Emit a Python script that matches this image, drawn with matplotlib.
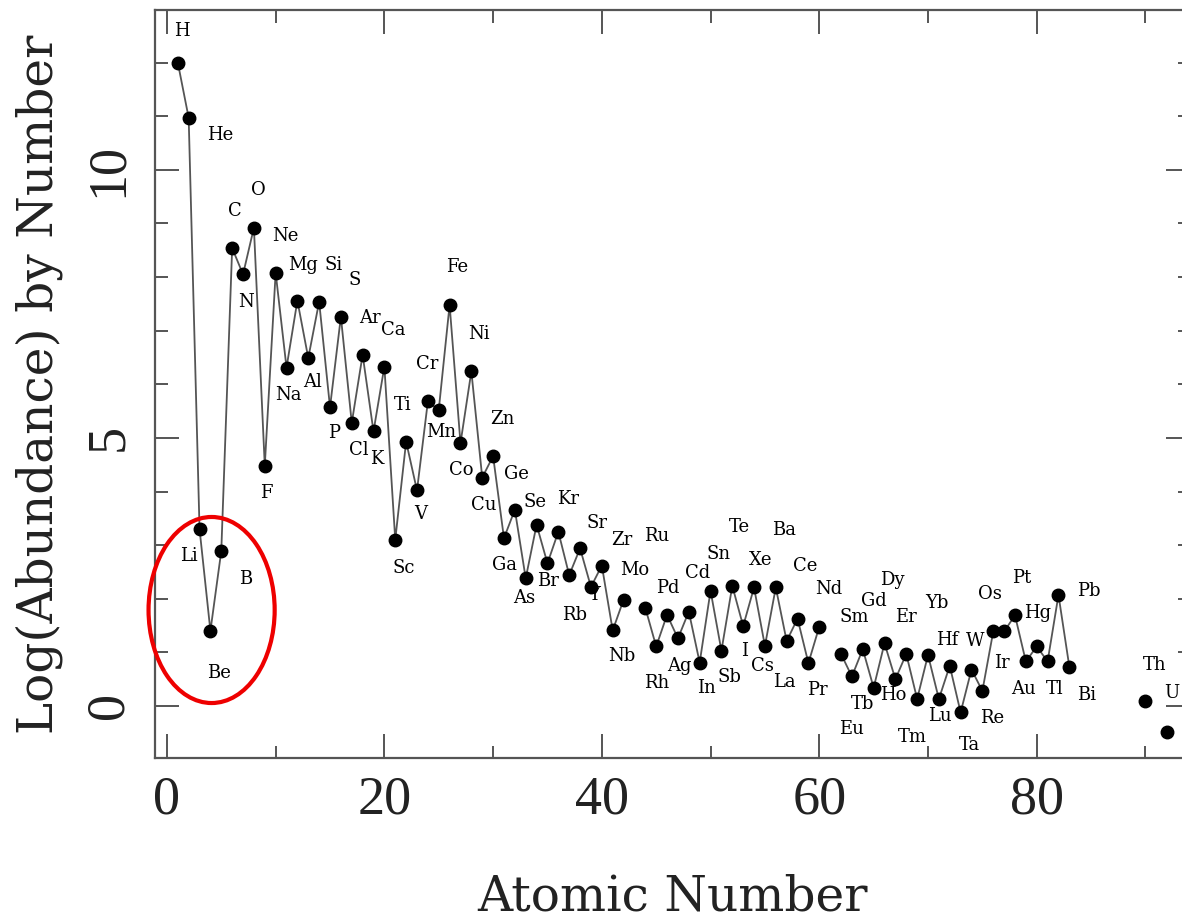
import numpy as np
import matplotlib.pyplot as plt
from matplotlib.patches import Ellipse
from matplotlib.ticker import MultipleLocator

# solar system abundances, log scale (H = 12)
atomic_numbers = [1, 2, 3, 4, 5, 6, 7, 8, 9, 10, 11, 12, 13, 14, 15, 16, 17, 18, 19, 20,
                  21, 22, 23, 24, 25, 26, 27, 28, 29, 30, 31, 32, 33, 34, 35, 36, 37, 38, 39, 40,
                  41, 42, 44, 45, 46, 47, 48, 49, 50, 51, 52, 53, 54, 55, 56, 57, 58, 59, 60,
                  62, 63, 64, 65, 66, 67, 68, 69, 70, 71, 72, 73, 74, 75, 76, 77, 78, 79, 80,
                  81, 82, 83, 90, 92]
symbols = ['H', 'He', 'Li', 'Be', 'B', 'C', 'N', 'O', 'F', 'Ne', 'Na', 'Mg', 'Al', 'Si', 'P',
           'S', 'Cl', 'Ar', 'K', 'Ca', 'Sc', 'Ti', 'V', 'Cr', 'Mn', 'Fe', 'Co', 'Ni', 'Cu', 'Zn',
           'Ga', 'Ge', 'As', 'Se', 'Br', 'Kr', 'Rb', 'Sr', 'Y', 'Zr', 'Nb', 'Mo', 'Ru', 'Rh',
           'Pd', 'Ag', 'Cd', 'In', 'Sn', 'Sb', 'Te', 'I', 'Xe', 'Cs', 'Ba', 'La', 'Ce', 'Pr',
           'Nd', 'Sm', 'Eu', 'Gd', 'Tb', 'Dy', 'Ho', 'Er', 'Tm', 'Yb', 'Lu', 'Hf', 'Ta', 'W',
           'Re', 'Os', 'Ir', 'Pt', 'Au', 'Hg', 'Tl', 'Pb', 'Bi', 'Th', 'U']
log_abundance = [12.00, 10.97, 3.30, 1.40, 2.89, 8.54, 8.05, 8.92, 4.48, 8.08,
                 6.31, 7.56, 6.49, 7.54, 5.57, 7.26, 5.28, 6.55, 5.12, 6.33,
                 3.10, 4.93, 4.02, 5.68, 5.52, 7.48, 4.90, 6.24, 4.26, 4.66,
                 3.13, 3.66, 2.38, 3.38, 2.66, 3.25, 2.44, 2.94, 2.22, 2.62,
                 1.41, 1.98, 1.83, 1.11, 1.70, 1.26, 1.76, 0.81, 2.15, 1.03,
                 2.24, 1.49, 2.21, 1.12, 2.21, 1.21, 1.63, 0.80, 1.48,
                 0.97, 0.55, 1.06, 0.34, 1.17, 0.50, 0.97, 0.13, 0.95, 0.13,
                 0.75, -0.12, 0.68, 0.28, 1.39, 1.39, 1.69, 0.83, 1.11, 0.83,
                 2.07, 0.73, 0.09, -0.49]

# label placement, pixels from each point (dx, dy up)
label_offsets = [(4, 32), (32, -17), (-11, -27), (9, -42), (24, -28), (3, 37), (3, -28),
                 (4, 38), (2, -27), (10, 37), (2, -27), (6, 36), (4, -24), (14, 37),
                 (4, -26), (14, 37), (7, -27), (7, 37), (3, -28), (9, 37), (9, -28),
                 (-3, 37), (4, -24), (-1, 37), (2, -22), (8, 38), (1, -27), (8, 37),
                 (2, -27), (9, 37), (1, -27), (2, 36), (-2, -20), (-2, 23), (1, -18),
                 (10, 33), (5, -40), (17, 25), (3, -8), (20, 26), (9, -26), (11, 30),
                 (11, 72), (0, -37), (1, 27), (1, -28), (9, 39), (7, -25), (8, 37),
                 (8, -26), (7, 59), (1, -25), (7, 27), (-2, -20), (8, 57), (-2, -41),
                 (8, 53), (9, -27), (9, 38), (13, 37), (0, -53), (11, 48), (-11, -16),
                 (8, 63), (-2, -16), (0, 37), (-5, -38), (9, 52), (1, -17), (-3, 26),
                 (9, -33), (4, 29), (10, -27), (-3, 37), (-2, -32), (7, 37), (-2, -28),
                 (1, 33), (7, -28), (30, 4), (17, -28), (9, 36), (5, 39)]

z = np.array(atomic_numbers)
y = np.array(log_abundance)

fig = plt.figure(figsize=(11.82, 9.19), dpi=100)
ax = fig.add_axes([0.1311, 0.1752, 0.8757, 0.8139])

# connect consecutive elements only (gaps at Tc, Pm and beyond Bi)
breaks = np.where(np.diff(z) > 1)[0] + 1
for seg_z, seg_y in zip(np.split(z, breaks), np.split(y, breaks)):
    ax.plot(seg_z, seg_y, color='#555555', linewidth=1.3, zorder=2)
ax.plot(z, y, 'o', color='black', markersize=9, zorder=3)

for zz, yy, sym, (dx, dy) in zip(z, y, symbols, label_offsets):
    ax.annotate(sym, (zz, yy), xytext=(dx, dy), textcoords='offset pixels',
                ha='center', va='center', fontsize=13, family='DejaVu Serif',
                color='black')

# highlight Li, Be, B
ax.add_patch(Ellipse((4.11, 1.79), 11.6, 3.47, fill=False, edgecolor='#ee0000',
                     linewidth=3.0, zorder=4, clip_on=False))

ax.set_xlim(-1.1, 94.1)
ax.set_ylim(-0.97, 12.98)
ax.xaxis.set_major_locator(MultipleLocator(20))
ax.xaxis.set_minor_locator(MultipleLocator(10))
ax.yaxis.set_major_locator(MultipleLocator(5))
ax.yaxis.set_minor_locator(MultipleLocator(1))

for side in ax.spines.values():
    side.set_color('#555555')
    side.set_linewidth(1.6)
ax.tick_params(which='both', direction='in', top=True, right=True,
               color='#555555', width=1.4)
ax.tick_params(which='major', length=17)
ax.tick_params(which='minor', length=9)
ax.tick_params(axis='x', pad=12, labelsize=39)
ax.tick_params(axis='y', pad=15, labelsize=39)
for lab in ax.get_xticklabels() + ax.get_yticklabels():
    lab.set_family('Liberation Serif')
    lab.set_color('#222222')
for lab in ax.get_yticklabels():
    lab.set_rotation(90)
    lab.set_va('center')

ax.set_xlabel('Atomic Number', fontsize=35, family='DejaVu Serif', color='#222222')
ax.set_ylabel('Log(Abundance) by Number', fontsize=35, family='DejaVu Serif',
              color='#222222')
ax.xaxis.set_label_coords(0.5, -0.155)
ax.yaxis.set_label_coords(-0.089, 0.5)

fig.savefig('out.png', dpi=100)
